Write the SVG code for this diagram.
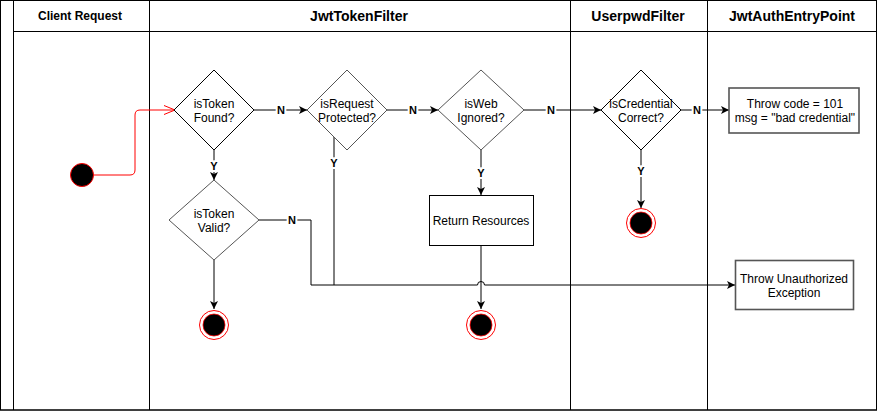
<svg xmlns="http://www.w3.org/2000/svg" width="878" height="411" viewBox="0 0 878 411">
<style>
.lane{fill:none;stroke:#000;stroke-width:1}
.hdr{font-family:"Liberation Sans",Arial,sans-serif;font-weight:bold;text-anchor:middle;fill:#000}
.txt{font-family:"Liberation Sans",Arial,sans-serif;font-size:12px;text-anchor:middle;fill:#000}
.lbl{font-family:"Liberation Sans",Arial,sans-serif;font-size:11px;font-weight:bold;text-anchor:middle;fill:#000;stroke:#fff;stroke-width:4;paint-order:stroke}
.dia{fill:#fff;stroke:#000;stroke-width:1}
.dia2{fill:#fff;stroke:#555;stroke-width:1}
.box{fill:#fff;stroke:#000;stroke-width:1}
.box2{fill:#fff;stroke:#555;stroke-width:1.6}
.edge{fill:none;stroke:#000;stroke-width:1}
.start{fill:#000;stroke:#f00;stroke-width:1}
.endo{fill:#fff;stroke:#f00;stroke-width:1}
.endi{fill:#000;stroke:#f00;stroke-width:0.8}
</style>
<defs>
<marker id="arr" markerUnits="userSpaceOnUse" markerWidth="10" markerHeight="10" viewBox="0 0 10 10" refX="8" refY="5" orient="auto">
<path d="M0,1 L8,5 L0,9 L2,5 z" fill="#000"/>
</marker>
<marker id="open" markerUnits="userSpaceOnUse" markerWidth="14" markerHeight="12" viewBox="0 0 14 12" refX="12" refY="6" orient="auto">
<path d="M1,1.5 L12,6 L1,10.5" fill="none" stroke="#f00" stroke-width="1"/>
</marker>
</defs>

<g id="lanes">
<rect class="lane" x="0.5" y="0.5" width="876" height="409.5"/>
<line class="lane" x1="0" y1="410" x2="877" y2="410" stroke-width="2"/>
<line class="lane" x1="13.5" y1="0" x2="13.5" y2="410"/>
<line class="lane" x1="149.5" y1="0" x2="149.5" y2="410"/>
<line class="lane" x1="570.5" y1="0" x2="570.5" y2="410"/>
<line class="lane" x1="707.5" y1="0" x2="707.5" y2="410"/>
<line class="lane" x1="13.5" y1="31.5" x2="876.5" y2="31.5"/>
<text class="hdr" x="80" y="20" font-size="12">Client Request</text>
<text class="hdr" x="359" y="21" font-size="14">JwtTokenFilter</text>
<text class="hdr" x="638" y="21" font-size="14">UserpwdFilter</text>
<text class="hdr" x="792" y="21" font-size="14">JwtAuthEntryPoint</text>
</g>

<g id="connectors">
<path d="M93,175 H130 Q135,175 135,170 V115 Q135,110 140,110 H175" fill="none" stroke="#f00" stroke-width="1" marker-end="url(#open)"/>
<path class="edge" d="M254,110 H307" marker-end="url(#arr)"/>
<path class="edge" d="M387,110 H438" marker-end="url(#arr)"/>
<path class="edge" d="M524,110 H601" marker-end="url(#arr)"/>
<path class="edge" d="M681,110 H729" marker-end="url(#arr)"/>
<path class="edge" d="M214,150 V180" marker-end="url(#arr)"/>
<path class="edge" d="M334,137 V285"/>
<path class="edge" d="M481,150 V195" marker-end="url(#arr)"/>
<path class="edge" d="M641,150 V208" marker-end="url(#arr)"/>
<path class="edge" d="M214,260 V309" marker-end="url(#arr)"/>
<path class="edge" d="M259,220 H311 V285 H477.5 A3.5,3.5 0 0 1 484.5,285 H735" marker-end="url(#arr)"/>
<path class="edge" d="M481,245 V309" marker-end="url(#arr)"/>
<text class="lbl" x="281" y="114">N</text>
<text class="lbl" x="413" y="114">N</text>
<text class="lbl" x="551" y="114">N</text>
<text class="lbl" x="697" y="114">N</text>
<text class="lbl" x="214" y="170">Y</text>
<text class="lbl" x="334" y="167">Y</text>
<text class="lbl" x="481" y="177">Y</text>
<text class="lbl" x="641" y="175">Y</text>
<text class="lbl" x="292" y="224">N</text>
</g>

<g id="start">
<circle class="start" cx="82" cy="175" r="11.5"/>
</g>

<g id="isTokenFound">
<polygon class="dia" points="214,70 254,110 214,150 174,110"/>
<text class="txt" x="214" y="107.5">isToken</text>
<text class="txt" x="214" y="121.5">Found?</text>
</g>

<g id="isRequestProtected">
<polygon class="dia2" points="347,70 387,110 347,150 307,110"/>
<text class="txt" x="347" y="107.5">isRequest</text>
<text class="txt" x="347" y="121.5">Protected?</text>
</g>

<g id="isWebIgnored">
<polygon class="dia2" points="481,70 524,110 481,150 438,110"/>
<text class="txt" x="481" y="107.5">isWeb</text>
<text class="txt" x="481" y="121.5">Ignored?</text>
</g>

<g id="isCredentialCorrect">
<polygon class="dia" points="641,70 681,110 641,150 601,110"/>
<text class="txt" x="641" y="107.5">isCredential</text>
<text class="txt" x="641" y="121.5">Correct?</text>
</g>

<g id="throwCode">
<rect class="box2" x="729" y="88" width="130" height="45"/>
<text class="txt" x="795" y="107.5">Throw code = 101</text>
<text class="txt" x="795" y="121.5">msg = "bad credential"</text>
</g>

<g id="isTokenValid">
<polygon class="dia2" points="214,180 259,220 214,260 169,220"/>
<text class="txt" x="214" y="218">isToken</text>
<text class="txt" x="214" y="232">Valid?</text>
</g>

<g id="returnResources">
<rect class="box" x="429.5" y="195.5" width="104" height="50"/>
<text class="txt" x="481" y="224.5">Return Resources</text>
</g>

<g id="throwUnauthorized">
<rect class="box2" x="735.5" y="260.5" width="118" height="49"/>
<text class="txt" x="794" y="283">Throw Unauthorized</text>
<text class="txt" x="794" y="297">Exception</text>
</g>

<g id="endCredential">
<circle class="endo" cx="641" cy="223" r="14.5"/>
<circle class="endi" cx="641" cy="223" r="11"/>
</g>
<g id="endValid">
<circle class="endo" cx="214" cy="325" r="14.5"/>
<circle class="endi" cx="214" cy="325" r="11"/>
</g>
<g id="endResources">
<circle class="endo" cx="481" cy="325" r="14.5"/>
<circle class="endi" cx="481" cy="325" r="11"/>
</g>
</svg>
